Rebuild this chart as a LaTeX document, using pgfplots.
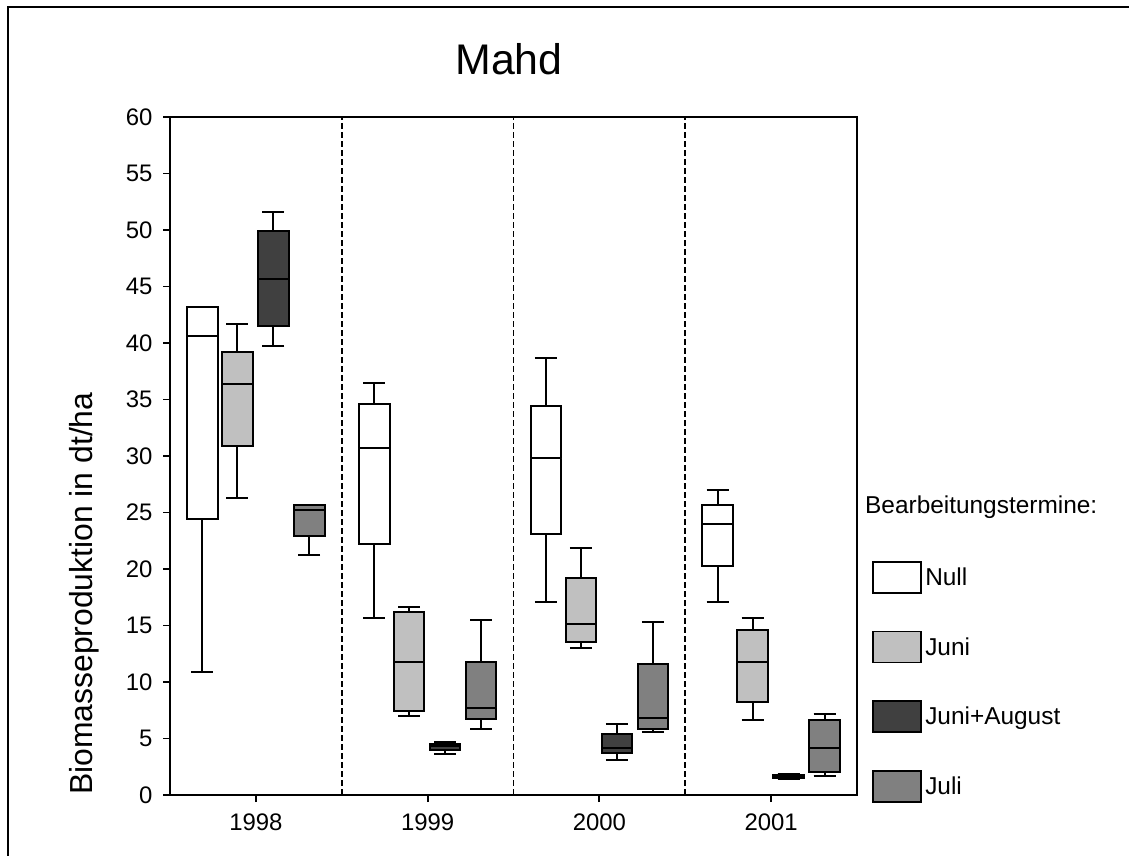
\documentclass[border=0pt]{standalone}
\usepackage{pgfplots}
\pgfplotsset{compat=1.18}
\usepgfplotslibrary{statistics}
\usepackage{fontspec}
\setmainfont{Liberation Sans}

\definecolor{juni}{HTML}{C0C0C0}
\definecolor{juniaug}{HTML}{404040}
\definecolor{juli}{HTML}{808080}

\pgfplotsset{
  bx/.style={draw=black, line width=2bp, forget plot,
    boxplot/draw direction=y,
    boxplot/box extend=0.178, boxplot/whisker extend=0.128,
    boxplot/every box/.style={line width=2bp, draw=black},
    boxplot/every whisker/.style={line width=2bp, draw=black},
    boxplot/every median/.style={line width=2bp, draw=black}},
}

\begin{document}
\begin{tikzpicture}
\useasboundingbox (0bp,0bp) rectangle (1129bp,856bp);
% outer frame
\draw[line width=2bp] (8bp,0bp) -- (8bp,849bp) -- (1129bp,849bp);

\begin{axis}[
  at={(170bp,61bp)}, anchor=south west,
  scale only axis, width=687bp, height=678bp,
  xmin=-0.5, xmax=3.5, ymin=0, ymax=60,
  xtick={0,1,2,3}, xticklabels={1998,1999,2000,2001},
  ytick={0,5,...,60},
  xtick pos=bottom, ytick pos=left,
  tick align=outside, major tick length=7bp,
  tick style={line width=1.8bp, black},
  axis line style={line width=2bp},
  ticklabel style={font=\fontsize{24}{28}\selectfont},
  /pgf/number format/assume math mode=true,
  y tick label style={xshift=-7bp},
  x tick label style={yshift=-8bp},
  extra x ticks={0.5,1.5,2.5}, extra x tick labels={},
  extra x tick style={major tick length=0pt, grid=major,
    major grid style={black, line width=1.9bp, dash pattern=on 5.5bp off 3.5bp}},
  legend style={at={(1.0218,0.3451)}, anchor=north west, draw=none, fill=none,
    inner sep=0pt, row sep=37bp,
    nodes={inner sep=3.5bp, anchor=west, font=\fontsize{24.5}{28}\selectfont}},
  legend cell align=left,
  legend image code/.code={\draw[#1, line width=1.6bp] (0bp,-15.5bp) rectangle (48bp,15.5bp);},
]
% 1998
\addplot[bx, fill=white,   boxplot prepared={draw position=-0.311, lower whisker=10.9, lower quartile=24.4, median=40.6, upper quartile=43.2, upper whisker=43.2}] coordinates {};
\addplot[bx, fill=juni,    boxplot prepared={draw position=-0.108, lower whisker=26.3, lower quartile=30.9, median=36.4, upper quartile=39.2, upper whisker=41.7}] coordinates {};
\addplot[bx, fill=juniaug, boxplot prepared={draw position=0.102,  lower whisker=39.7, lower quartile=41.5, median=45.7, upper quartile=49.9, upper whisker=51.6}] coordinates {};
\addplot[bx, fill=juli,    boxplot prepared={draw position=0.311,  lower whisker=21.2, lower quartile=22.9, median=25.2, upper quartile=25.7, upper whisker=25.7}] coordinates {};
% 1999
\addplot[bx, fill=white,   boxplot prepared={draw position=0.689, lower whisker=15.7, lower quartile=22.2, median=30.7, upper quartile=34.6, upper whisker=36.5}] coordinates {};
\addplot[bx, fill=juni,    boxplot prepared={draw position=0.892, lower whisker=7.0, lower quartile=7.4, median=11.8, upper quartile=16.2, upper whisker=16.6}] coordinates {};
\addplot[bx, fill=juniaug, boxplot prepared={draw position=1.102, lower whisker=3.6, lower quartile=4.0, median=4.3, upper quartile=4.5, upper whisker=4.7}] coordinates {};
\addplot[bx, fill=juli,    boxplot prepared={draw position=1.311, lower whisker=5.8, lower quartile=6.7, median=7.7, upper quartile=11.8, upper whisker=15.5}] coordinates {};
% 2000
\addplot[bx, fill=white,   boxplot prepared={draw position=1.689, lower whisker=17.1, lower quartile=23.1, median=29.8, upper quartile=34.4, upper whisker=38.7}] coordinates {};
\addplot[bx, fill=juni,    boxplot prepared={draw position=1.892, lower whisker=13.0, lower quartile=13.5, median=15.1, upper quartile=19.2, upper whisker=21.9}] coordinates {};
\addplot[bx, fill=juniaug, boxplot prepared={draw position=2.102, lower whisker=3.1, lower quartile=3.7, median=4.2, upper quartile=5.4, upper whisker=6.3}] coordinates {};
\addplot[bx, fill=juli,    boxplot prepared={draw position=2.311, lower whisker=5.6, lower quartile=5.8, median=6.8, upper quartile=11.6, upper whisker=15.3}] coordinates {};
% 2001
\addplot[bx, fill=white,   boxplot prepared={draw position=2.689, lower whisker=17.1, lower quartile=20.3, median=24.0, upper quartile=25.7, upper whisker=27.0}] coordinates {};
\addplot[bx, fill=juni,    boxplot prepared={draw position=2.892, lower whisker=6.6, lower quartile=8.2, median=11.8, upper quartile=14.6, upper whisker=15.7}] coordinates {};
\addplot[bx, fill=juniaug, boxplot prepared={draw position=3.102, lower whisker=1.4, lower quartile=1.5, median=1.65, upper quartile=1.8, upper whisker=1.9}] coordinates {};
\addplot[bx, fill=juli,    boxplot prepared={draw position=3.311, lower whisker=1.7, lower quartile=2.05, median=4.2, upper quartile=6.6, upper whisker=7.2}] coordinates {};

\addlegendimage{draw=black, fill=white}
\addlegendentry{Null}
\addlegendimage{draw=black, fill=juni}
\addlegendentry{Juni}
\addlegendimage{draw=black, fill=juniaug}
\addlegendentry{Juni+August}
\addlegendimage{draw=black, fill=juli}
\addlegendentry{Juli}
\end{axis}

\node[font=\fontsize{43}{48}\selectfont] at (509bp,797bp) {Mahd};
\node[rotate=90, anchor=base west, inner sep=0pt, font=\fontsize{32}{36}\selectfont] at (92bp,61bp) {Biomasseproduktion in dt/ha};
\node[anchor=base west, inner sep=0pt, font=\fontsize{24.5}{28}\selectfont] at (865bp,342bp) {Bearbeitungstermine:};
\end{tikzpicture}
\end{document}
